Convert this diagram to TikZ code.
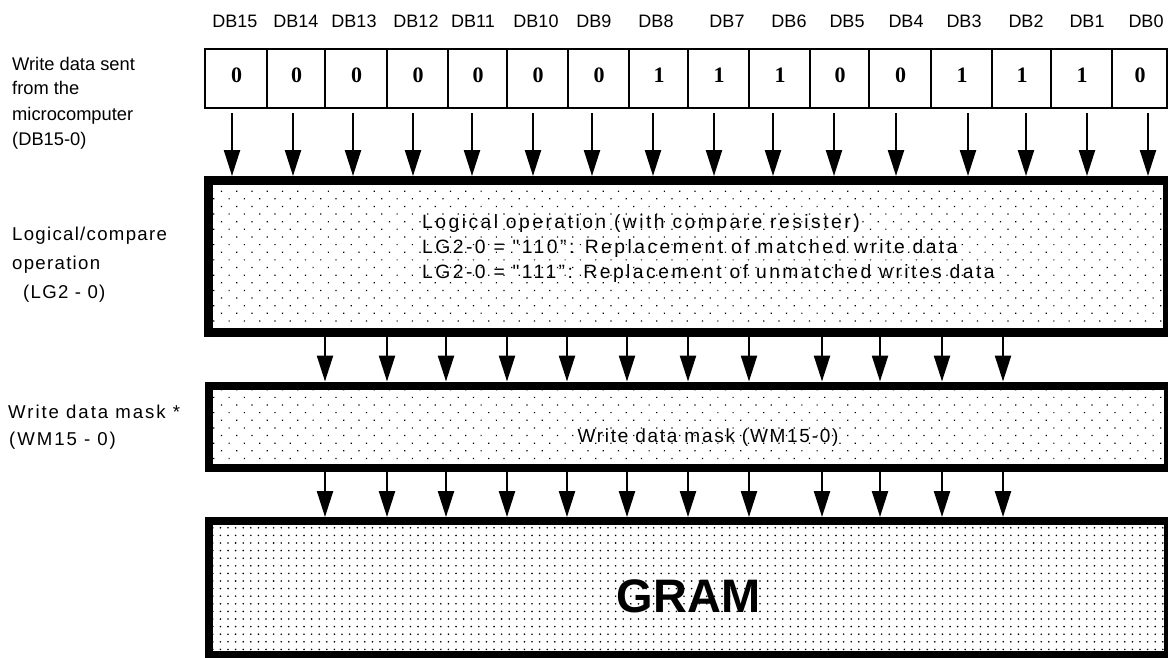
\documentclass[tikz,border=0pt]{standalone}
\usepackage{fontspec}
\setmainfont{Liberation Sans}
\newfontfamily\serifb{Liberation Serif}
\newfontfamily\lsLogic[LetterSpace=12.8]{Liberation Sans}
\newfontfamily\lsLeft[LetterSpace=7]{Liberation Sans}
\newfontfamily\lsMask[LetterSpace=10.5]{Liberation Sans}
\newfontfamily\lsMaskIn[LetterSpace=9]{Liberation Sans}
\usetikzlibrary{arrows.meta,patterns.meta}
\tikzset{
  cell/.style={draw, line width=2pt, minimum height=59pt, inner sep=0pt},
  bit/.style={font=\serifb\bfseries\fontsize{22}{24}\selectfont, inner sep=0pt, anchor=base},
  dblab/.style={font=\fontsize{18}{20}\selectfont, inner sep=0pt, anchor=base},
  side/.style={font=\fontsize{18.3}{20}\selectfont, inner sep=0pt, anchor=base west},
  sideB/.style={font=\lsLeft\fontsize{18.6}{20}\selectfont, inner sep=0pt, anchor=base west},
  sideC/.style={font=\lsMask\fontsize{18.6}{20}\selectfont, inner sep=0pt, anchor=base west},
  ltext/.style={font=\lsLogic\fontsize{19.3}{20}\selectfont, inner sep=0pt, anchor=base west},
  box/.style={draw, inner sep=0pt, minimum width=959pt,
    pattern={Dots[distance=10.8pt, angle=45, radius=0.85pt]}, pattern color=black},
  gbox/.style={draw, inner sep=0pt, minimum width=959pt, line width=8pt,
    pattern={Dots[distance=7.6pt, angle=0, radius=0.9pt]}, pattern color=black},
  arr/.style={line width=2.3pt, -{Triangle[width=16pt, length=26pt]}},
}
\begin{document}
\begin{tikzpicture}[x=1pt, y=-1pt]
\useasboundingbox (0,0) rectangle (1168,657);

% left labels
\node[side] (t1) at (12,70) {Write data sent};
\node[side] (t2) at (12,94.5) {from the};
\node[side] (t3) at (12,120) {microcomputer};
\node[side] (t4) at (12,145.5) {(DB15-0)};
\node[sideB] (u1) at (12,240) {Logical/compare};
\node[sideB] (u2) at (12,269) {operation};
\node[sideB] (u3) at (23,298) {(LG2 - 0)};
\node[sideC] (w1) at (8,418) {Write data mask *};
\node[sideC] (w2) at (9,445) {(WM15 - 0)};

% data cells
\foreach \l/\r/\v/\i/\lx/\ax in {
  205/267/0/15/235/232, 267/325/0/14/296/293, 325/387/0/13/354/353,
  387/448/0/12/416/413, 448/507/0/11/473/472, 507/568/0/10/536/533,
  568/629/0/9/594/592, 629/688/1/8/656/653, 688/749/1/7/727/714,
  749/810/1/6/789/773, 810/869/0/5/847/834, 869/931/0/4/906/896,
  931/992/1/3/964/968, 992/1051/1/2/1026/1026, 1051/1112/1/1/1087/1087,
  1112/1167/0/0/1146/1148}{
  \node[cell, minimum width={\r-\l}] (c\i) at ({(\l+\r)/2},78.5) {};
  \node[bit] (v\i) at ({(\l+\r)/2+0.5},82) {\v};
  \node[dblab] (d\i) at (\lx,27) {DB\i};
  \coordinate (s\i) at (\ax,113);
}

% boxes
\node[box, line width=9pt, minimum height=151.5pt] (logic) at (688,256.25) {};
\node[box, line width=8pt, minimum height=82.5pt] (mask) at (688,426.75) {};
\node[gbox, minimum height=134pt] (gram) at (688,588) {};

% texts in boxes
\node[ltext] (l1) at (422,228) {Logical operation (with compare resister)};
\node[ltext] (l2) at (422,253) {LG2-0 = "110”: Replacement of matched write data};
\node[ltext] (l3) at (422,278) {LG2-0 = "111”: Replacement of unmatched writes data};
\node[font=\lsMaskIn\fontsize{19}{20}\selectfont, inner sep=0pt, anchor=base] (mt) at (708,442) {Write data mask (WM15-0)};
\node[font=\bfseries\fontsize{47}{50}\selectfont, inner sep=0pt, anchor=base] (gt) at (688.5,612) {GRAM};

% arrows top
\foreach \i in {15,14,...,0}{
  \draw[arr] (s\i) -- (s\i |- logic.north);
}
% arrows middle and bottom
\foreach \x [count=\k] in {325,387,446,507,567,627,688,749,822,880,942,1003}{
  \coordinate (m\k) at (\x,0);
  \draw[arr] (logic.south -| m\k) -- (mask.north -| m\k);
  \draw[arr] (mask.south -| m\k) -- (gram.north -| m\k);
}
\end{tikzpicture}
\end{document}
